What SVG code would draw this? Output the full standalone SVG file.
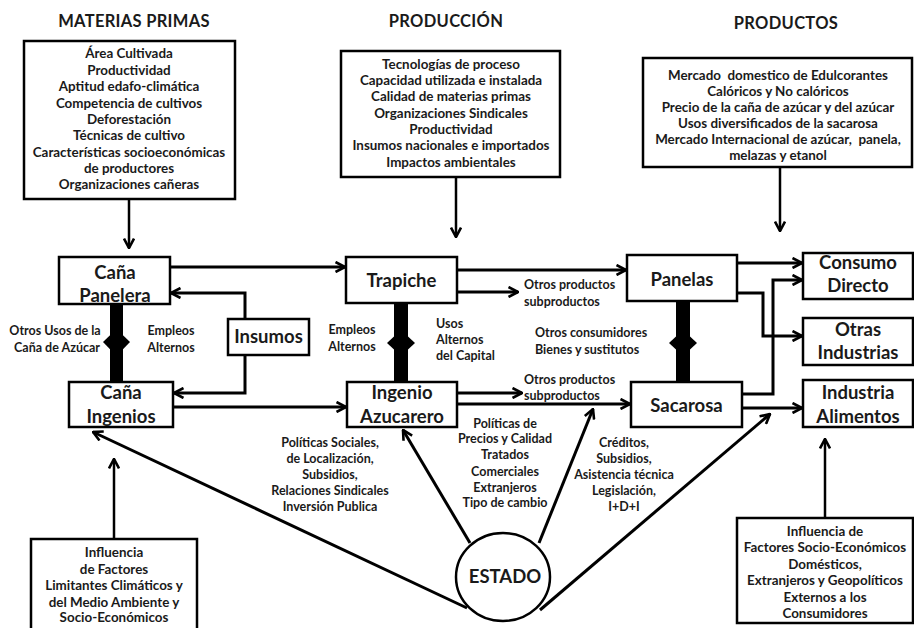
<svg xmlns="http://www.w3.org/2000/svg" width="914" height="628" viewBox="0 0 914 628">
  <defs>
    <marker id="arr" viewBox="0 0 12 12" refX="11" refY="6" markerWidth="12" markerHeight="12" markerUnits="userSpaceOnUse" orient="auto">
      <path d="M1.5,1 L11,6 L1.5,11" fill="none" stroke="#000" stroke-width="2.6" stroke-linejoin="miter"/>
    </marker>
    <style>
      text { font-family: Lato, "Open Sans", "Liberation Sans", sans-serif; font-weight: 700; fill: #1a1a1a; }
      .title { font-size: 16.5px; letter-spacing: 0.3px; }
      .info { font-size: 13.4px; text-anchor: middle; }
      .lbl { font-size: 12.5px; }
      .mid { text-anchor: middle; }
      .node { font-size: 18.5px; text-anchor: middle; }
      .box { fill: #fff; stroke: #000; stroke-width: 2.5; }
      .c { fill: none; stroke: #000; stroke-width: 3; marker-end: url(#arr); }
      .c2 { fill: none; stroke: #000; stroke-width: 2.5; marker-end: url(#arr); }
      .bar { fill: #000; }
    </style>
  </defs>
  <rect width="914" height="628" fill="#fff"/>

  <!-- column headings -->
  <g id="headings">
    <text class="title mid" x="134" y="27">MATERIAS PRIMAS</text>
    <text class="title mid" x="446" y="27">PRODUCCIÓN</text>
    <text class="title mid" x="786" y="29">PRODUCTOS</text>
  </g>

  <!-- connectors -->
  <g id="connectors">
    <line class="c2" x1="129" y1="199" x2="129" y2="248"/>
    <line class="c2" x1="456" y1="177" x2="456" y2="237"/>
    <line class="c2" x1="780" y1="167" x2="780" y2="231"/>

    <line class="c" x1="170" y1="267" x2="345" y2="267"/>
    <path class="c" d="M245,319 V293 H171"/>
    <path class="c" d="M245,355 V393 H174"/>
    <line class="c" x1="173" y1="407" x2="346" y2="407"/>

    <line class="c" x1="457" y1="270" x2="626" y2="270"/>
    <line class="c" x1="457" y1="292" x2="518" y2="292"/>
    <line class="c" x1="457" y1="393" x2="522" y2="393"/>
    <line class="c" x1="457" y1="404" x2="630" y2="404"/>

    <line class="c" x1="737" y1="263" x2="802" y2="263"/>
    <path class="c" d="M737,293 H763 V336 H802"/>
    <path class="c" d="M742,394 H773 V280 H802"/>
    <line class="c" x1="742" y1="408" x2="802" y2="408"/>

    <line class="c" x1="467" y1="608" x2="93" y2="432"/>
    <line class="c" x1="470" y1="543" x2="403" y2="430"/>
    <line class="c" x1="539" y1="543" x2="593" y2="409"/>
    <line class="c" x1="540" y1="610" x2="770" y2="414"/>

    <line class="c2" x1="114" y1="539" x2="114" y2="459"/>
    <line class="c2" x1="825" y1="518" x2="825" y2="439"/>

    <!-- substitution links -->
    <rect class="bar" x="110" y="304" width="13" height="78"/>
    <polygon class="bar" points="116.5,329 130,342 116.5,356 103,342"/>
    <rect class="bar" x="394" y="303" width="14" height="79"/>
    <polygon class="bar" points="401,330 415,343 401,356 387,343"/>
    <rect class="bar" x="676" y="301" width="14" height="81"/>
    <polygon class="bar" points="683,330 697,343 683,356 669,343"/>
  </g>

  <!-- raw material factors -->
  <g id="factores-materias">
    <rect class="box" x="24" y="41" width="211" height="158"/>
    <text class="info" x="129" y="58">Área Cultivada</text>
    <text class="info" x="129" y="74.5">Productividad</text>
    <text class="info" x="129" y="91">Aptitud edafo-climática</text>
    <text class="info" x="129" y="107.5">Competencia de cultivos</text>
    <text class="info" x="129" y="124">Deforestación</text>
    <text class="info" x="129" y="140">Técnicas de cultivo</text>
    <text class="info" x="129" y="156.5">Características socioeconómicas</text>
    <text class="info" x="129" y="173">de productores</text>
    <text class="info" x="129" y="189">Organizaciones cañeras</text>
  </g>

  <g id="factores-produccion">
    <rect class="box" x="341" y="51" width="219" height="126"/>
    <text class="info" x="451" y="68.5">Tecnologías de proceso</text>
    <text class="info" x="451" y="85">Capacidad utilizada e instalada</text>
    <text class="info" x="451" y="101">Calidad de materias primas</text>
    <text class="info" x="451" y="117.5">Organizaciones Sindicales</text>
    <text class="info" x="451" y="134">Productividad</text>
    <text class="info" x="451" y="150">Insumos nacionales e importados</text>
    <text class="info" x="451" y="166.5">Impactos ambientales</text>
  </g>

  <g id="factores-productos">
    <rect class="box" x="643" y="58" width="269" height="109"/>
    <text class="info" x="778" y="79.5" xml:space="preserve">Mercado  domestico de Edulcorantes</text>
    <text class="info" x="778" y="95.5">Calóricos y No calóricos</text>
    <text class="info" x="778" y="112">Precio de la caña de azúcar y del azúcar</text>
    <text class="info" x="778" y="128">Usos diversificados de la sacarosa</text>
    <text class="info" x="778" y="144" xml:space="preserve">Mercado Internacional de azúcar,  panela,</text>
    <text class="info" x="778" y="160">melazas y etanol</text>
  </g>

  <g id="cana-panelera">
    <rect class="box" x="59" y="257" width="111" height="47"/>
    <text class="node" x="115" y="279">Caña</text>
    <text class="node" x="115" y="302">Panelera</text>
  </g>

  <g id="cana-ingenios">
    <rect class="box" x="69" y="382" width="104" height="45"/>
    <text class="node" x="121" y="399">Caña</text>
    <text class="node" x="121" y="423">Ingenios</text>
  </g>

  <g id="insumos">
    <rect class="box" x="228" y="319" width="81" height="36"/>
    <text class="node" x="268.5" y="343">Insumos</text>
  </g>

  <g id="trapiche">
    <rect class="box" x="346" y="257" width="111" height="46"/>
    <text class="node" x="401.5" y="287">Trapiche</text>
  </g>

  <g id="ingenio-azucarero">
    <rect class="box" x="347" y="382" width="110" height="45"/>
    <text class="node" x="402" y="399">Ingenio</text>
    <text class="node" x="402" y="423">Azucarero</text>
  </g>

  <g id="panelas">
    <rect class="box" x="627" y="255" width="110" height="46"/>
    <text class="node" x="682" y="286">Panelas</text>
  </g>

  <g id="sacarosa">
    <rect class="box" x="631" y="382" width="111" height="45"/>
    <text class="node" x="686.5" y="412">Sacarosa</text>
  </g>

  <g id="consumo-directo">
    <rect class="box" x="803" y="253" width="110" height="46"/>
    <text class="node" x="858" y="269">Consumo</text>
    <text class="node" x="858" y="292">Directo</text>
  </g>

  <g id="otras-industrias">
    <rect class="box" x="803" y="318" width="110" height="47"/>
    <text class="node" x="858" y="336">Otras</text>
    <text class="node" x="858" y="359">Industrias</text>
  </g>

  <g id="industria-alimentos">
    <rect class="box" x="803" y="380" width="110" height="47"/>
    <text class="node" x="858" y="399">Industria</text>
    <text class="node" x="858" y="423">Alimentos</text>
  </g>

  <g id="estado">
    <ellipse class="box" cx="503" cy="577" rx="47" ry="44"/>
    <text class="node" x="505" y="583">ESTADO</text>
  </g>

  <g id="factores-ambientales">
    <rect class="box" x="31" y="539" width="166" height="96"/>
    <text class="info" x="114" y="557">Influencia</text>
    <text class="info" x="114" y="573.5">de Factores</text>
    <text class="info" x="114" y="590">Limitantes Climáticos y</text>
    <text class="info" x="114" y="606.5">del Medio Ambiente y</text>
    <text class="info" x="114" y="622">Socio-Económicos</text>
  </g>

  <g id="factores-consumidores">
    <rect class="box" x="737" y="518" width="176" height="105"/>
    <text class="info" x="825" y="535.5">Influencia de</text>
    <text class="info" x="825" y="552">Factores Socio-Económicos</text>
    <text class="info" x="825" y="568.5">Domésticos,</text>
    <text class="info" x="825" y="585">Extranjeros y Geopolíticos</text>
    <text class="info" x="825" y="601.5">Externos a los</text>
    <text class="info" x="825" y="618">Consumidores</text>
  </g>

  <!-- connector labels -->
  <g id="labels">
    <text class="lbl mid" x="55" y="335">Otros Usos de la</text>
    <text class="lbl mid" x="57" y="352">Caña de Azúcar</text>
    <text class="lbl mid" x="171" y="335">Empleos</text>
    <text class="lbl mid" x="171" y="352">Alternos</text>
    <text class="lbl mid" x="352" y="334">Empleos</text>
    <text class="lbl mid" x="352" y="351">Alternos</text>
    <text class="lbl" x="436" y="328">Usos</text>
    <text class="lbl" x="436" y="344">Alternos</text>
    <text class="lbl" x="436" y="360">del Capital</text>
    <text class="lbl" x="524" y="289">Otros productos</text>
    <text class="lbl" x="524" y="306">subproductos</text>
    <text class="lbl" x="535" y="337">Otros consumidores</text>
    <text class="lbl" x="535" y="354">Bienes y sustitutos</text>
    <text class="lbl" x="524" y="384">Otros productos</text>
    <text class="lbl" x="524" y="400">subproductos</text>
    <text class="lbl mid" x="330" y="447">Políticas Sociales,</text>
    <text class="lbl mid" x="330" y="463">de Localización,</text>
    <text class="lbl mid" x="330" y="479">Subsidios,</text>
    <text class="lbl mid" x="330" y="495">Relaciones Sindicales</text>
    <text class="lbl mid" x="330" y="511">Inversión Publica</text>
    <text class="lbl mid" x="505" y="428">Políticas de</text>
    <text class="lbl mid" x="505" y="443">Precios y Calidad</text>
    <text class="lbl mid" x="505" y="459">Tratados</text>
    <text class="lbl mid" x="505" y="476">Comerciales</text>
    <text class="lbl mid" x="505" y="492">Extranjeros</text>
    <text class="lbl mid" x="505" y="507">Tipo de cambio</text>
    <text class="lbl mid" x="624" y="447">Créditos,</text>
    <text class="lbl mid" x="624" y="463">Subsidios,</text>
    <text class="lbl mid" x="624" y="479">Asistencia técnica</text>
    <text class="lbl mid" x="624" y="495">Legislación,</text>
    <text class="lbl mid" x="624" y="511">I+D+I</text>
  </g>
</svg>
